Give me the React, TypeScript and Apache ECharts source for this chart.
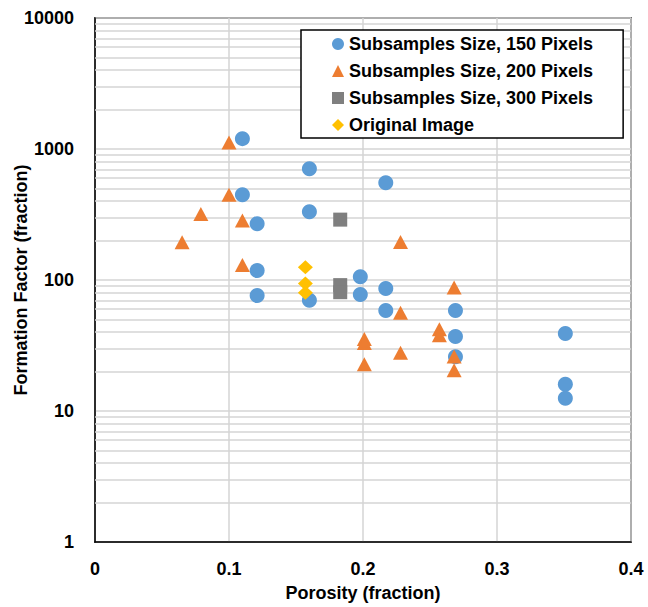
import React, { useEffect, useRef } from "react";
import * as echarts from "echarts";

// Porosity (fraction) vs formation factor, one array per sample group
const sub150: [number, number][] = [
  [0.11, 1200], [0.11, 448], [0.121, 269], [0.121, 118], [0.121, 76],
  [0.16, 707], [0.16, 332], [0.16, 70],
  [0.217, 553], [0.198, 106], [0.198, 77.6], [0.217, 86], [0.217, 58.6],
  [0.269, 58.6], [0.269, 37], [0.269, 26],
  [0.351, 39], [0.351, 16], [0.351, 12.5],
];

const sub200: [number, number][] = [
  [0.1, 1122], [0.1, 448], [0.079, 319], [0.11, 284], [0.065, 194], [0.11, 130],
  [0.228, 195], [0.268, 87.7], [0.228, 56.2],
  [0.201, 35.5], [0.201, 33], [0.201, 22.7],
  [0.257, 42], [0.257, 37.8], [0.228, 27.9], [0.268, 26.1], [0.268, 20.5],
];

const sub300: [number, number][] = [
  [0.183, 289], [0.183, 91.4], [0.183, 80.7],
];

const original: [number, number][] = [
  [0.157, 125], [0.157, 94], [0.157, 80],
];

const seriesNames = [
  "Subsamples Size, 150 Pixels",
  "Subsamples Size, 200 Pixels",
  "Subsamples Size, 300 Pixels",
  "Original Image",
];

const yTickLabels = ["1", "10", "100", "1000", "10000"];
const xTickLabels = ["0", "0.1", "0.2", "0.3", "0.4"];

// minor log gridlines at 2..9 within each decade
const minorLines: number[] = [];
for (let d = 0; d < 4; d++) {
  for (let k = 2; k <= 9; k++) minorLines.push(k * Math.pow(10, d));
}

const FONT = "Liberation Sans";
const GRID_COLOR = "#d4d4d4";

const boldText = { fontFamily: FONT, fontWeight: "bold" as const, fontSize: 18, color: "#000" };

export default function App() {
  const ref = useRef<HTMLDivElement>(null);

  useEffect(() => {
    if (!ref.current) return;
    const chart = echarts.init(ref.current, undefined, { renderer: "svg" });
    chart.setOption({
      animation: false,
      backgroundColor: "#ffffff",
      textStyle: { fontFamily: FONT },
      grid: {
        left: 95,
        top: 18,
        width: 536,
        height: 524,
        containLabel: false,
        outerBoundsMode: "none",
        show: true,
        borderColor: "#000000",
        borderWidth: 1.5,
        backgroundColor: "transparent",
      },
      legend: {
        data: seriesNames,
        orient: "vertical",
        left: 301,
        top: 30,
        z: 20,
        padding: [5, 30, 4, 31],
        itemWidth: 12,
        itemHeight: 12,
        itemGap: 9,
        borderColor: "#000000",
        borderWidth: 1.5,
        backgroundColor: "#ffffff",
        textStyle: { ...boldText, lineHeight: 18 },
      },
      xAxis: {
        type: "value",
        min: 0,
        max: 0.4,
        interval: 0.1,
        name: "Porosity (fraction)",
        nameLocation: "middle",
        nameGap: 42,
        nameMoveOverlap: false,
        nameTextStyle: boldText,
        axisLine: { show: true, lineStyle: { color: "#000", width: 1.5 } },
        axisTick: { show: false },
        axisLabel: {
          ...boldText,
          margin: 18,
          formatter: (v: number) => xTickLabels[Math.round(v * 10)] ?? "",
        },
        splitLine: { show: true, lineStyle: { color: GRID_COLOR, width: 1.5 } },
      },
      yAxis: {
        type: "log",
        logBase: 10,
        min: 1,
        max: 10000,
        name: "Formation Factor (fraction)",
        nameLocation: "middle",
        nameGap: 74,
        nameRotate: 90,
        nameMoveOverlap: false,
        nameTextStyle: { ...boldText, verticalAlign: "middle" },
        axisLine: { show: true, lineStyle: { color: "#000", width: 1.5 } },
        axisTick: { show: false },
        axisLabel: {
          ...boldText,
          margin: 21,
          formatter: (v: number) => yTickLabels[Math.round(Math.log10(v))] ?? "",
        },
        splitLine: { show: true, lineStyle: { color: GRID_COLOR, width: 1.5 } },
      },
      series: [
        {
          name: "minor-grid",
          type: "scatter",
          data: [],
          silent: true,
          z: 1,
          markLine: {
            silent: true,
            z: 1,
            symbol: "none",
            label: { show: false },
            lineStyle: { color: GRID_COLOR, width: 1.5, type: "solid" },
            emphasis: { disabled: true },
            data: minorLines.map((v) => ({ yAxis: v })),
          },
        },
        {
          name: seriesNames[0],
          type: "scatter",
          symbol: "circle",
          symbolSize: 15,
          itemStyle: { color: "#5B9BD5", opacity: 1 },
          data: sub150,
          z: 3,
        },
        {
          name: seriesNames[1],
          type: "scatter",
          symbol: "triangle",
          symbolSize: [15, 14],
          itemStyle: { color: "#ED7D31", opacity: 1 },
          data: sub200,
          z: 4,
        },
        {
          name: seriesNames[2],
          type: "scatter",
          symbol: "rect",
          symbolSize: 14,
          itemStyle: { color: "#7F7F7F", opacity: 1 },
          data: sub300,
          z: 5,
        },
        {
          name: seriesNames[3],
          type: "scatter",
          symbol: "diamond",
          symbolSize: [15, 14],
          itemStyle: { color: "#FFC000", opacity: 1 },
          data: original,
          z: 6,
        },
      ],
    });
    return () => chart.dispose();
  }, []);

  return (
    <div
      ref={ref}
      style={{ position: "fixed", left: 0, top: 0, width: 648, height: 607 }}
    />
  );
}
